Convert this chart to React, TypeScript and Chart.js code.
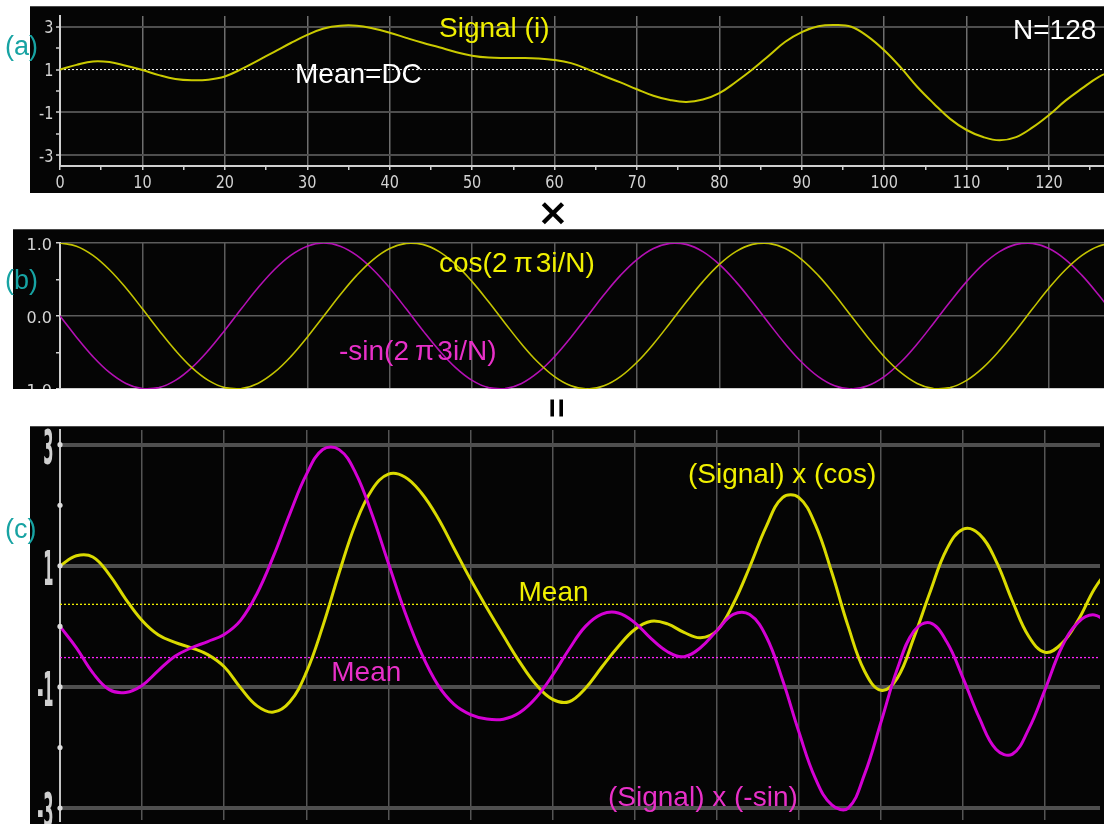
import React, { useEffect, useRef } from 'react';
import { Chart, registerables } from 'chart.js';

Chart.register(...registerables);

// ---------- data ----------
const sampleIdx = [
  0, 2, 4, 6, 8, 10, 12, 14, 16, 18, 20, 22, 24, 26, 28, 30, 32, 34, 36, 38, 40, 42, 44, 46, 48, 50, 52, 54, 56, 58, 60, 62,
  64, 66, 68, 70, 72, 74, 76, 78, 80, 82, 84, 86, 88, 90, 92, 94, 96, 98, 100, 102, 104, 106, 108, 110, 112, 114, 116, 118,
  120, 122, 124, 126, 128,
];

const signalVals = [
  1.0, 1.22, 1.38, 1.35, 1.18, 0.98, 0.74, 0.56, 0.5, 0.53, 0.68, 1.02, 1.42, 1.83, 2.24, 2.62, 2.92, 3.05, 3.05, 2.92,
  2.72, 2.48, 2.25, 2.04, 1.82, 1.65, 1.56, 1.54, 1.54, 1.52, 1.45, 1.3, 1.02, 0.7, 0.4, 0.08, -0.22, -0.42, -0.51, -0.4,
  -0.1, 0.42, 1.0, 1.65, 2.3, 2.75, 3.02, 3.08, 3.0, 2.55, 1.9, 1.1, 0.2, -0.58, -1.3, -1.82, -2.15, -2.3, -2.15, -1.7,
  -1.12, -0.45, 0.12, 0.65, 1.0,
];

const cosVals = [
  1, 0.957, 0.831, 0.634, 0.383, 0.098, -0.195, -0.471, -0.707, -0.882, -0.981, -0.995, -0.924, -0.773, -0.556, -0.29, 0,
  0.29, 0.556, 0.773, 0.924, 0.995, 0.981, 0.882, 0.707, 0.471, 0.195, -0.098, -0.383, -0.634, -0.831, -0.957, -1, -0.957,
  -0.831, -0.634, -0.383, -0.098, 0.195, 0.471, 0.707, 0.882, 0.981, 0.995, 0.924, 0.773, 0.556, 0.29, 0, -0.29, -0.556,
  -0.773, -0.924, -0.995, -0.981, -0.882, -0.707, -0.471, -0.195, 0.098, 0.383, 0.634, 0.831, 0.957, 1,
];

const negSinVals = [
  0, -0.29, -0.556, -0.773, -0.924, -0.995, -0.981, -0.882, -0.707, -0.471, -0.195, 0.098, 0.383, 0.634, 0.831, 0.957, 1,
  0.957, 0.831, 0.634, 0.383, 0.098, -0.195, -0.471, -0.707, -0.882, -0.981, -0.995, -0.924, -0.773, -0.556, -0.29, 0, 0.29,
  0.556, 0.773, 0.924, 0.995, 0.981, 0.882, 0.707, 0.471, 0.195, -0.098, -0.383, -0.634, -0.831, -0.957, -1, -0.957,
  -0.831, -0.634, -0.383, -0.098, 0.195, 0.471, 0.707, 0.882, 0.981, 0.995, 0.924, 0.773, 0.556, 0.29, 0,
];

const prodCosVals = [
  1.0, 1.167, 1.147, 0.856, 0.452, 0.096, -0.144, -0.264, -0.354, -0.467, -0.667, -1.015, -1.312, -1.415, -1.245, -0.76,
  0, 0.885, 1.696, 2.257, 2.513, 2.468, 2.207, 1.799, 1.287, 0.777, 0.304, -0.151, -0.59, -0.964, -1.205, -1.244, -1.02,
  -0.67, -0.332, -0.051, 0.084, 0.041, -0.099, -0.188, -0.071, 0.37, 0.981, 1.642, 2.125, 2.126, 1.679, 0.893, 0, -0.74,
  -1.056, -0.85, -0.185, 0.577, 1.275, 1.605, 1.52, 1.083, 0.419, -0.167, -0.429, -0.285, 0.1, 0.622, 1.0,
];

const prodSinVals = [
  0, -0.354, -0.767, -1.044, -1.09, -0.975, -0.726, -0.494, -0.354, -0.25, -0.133, 0.1, 0.544, 1.16, 1.861, 2.507, 2.92,
  2.919, 2.535, 1.851, 1.042, 0.243, -0.439, -0.961, -1.287, -1.455, -1.53, -1.532, -1.423, -1.175, -0.806, -0.377, 0,
  0.203, 0.222, 0.062, -0.203, -0.418, -0.5, -0.353, -0.071, 0.198, 0.195, -0.162, -0.881, -1.744, -2.51, -2.948, -3.0,
  -2.44, -1.579, -0.697, -0.077, 0.057, -0.254, -0.857, -1.52, -2.029, -2.109, -1.692, -1.035, -0.348, 0.067, 0.189, 0,
];

const meanDC = 1.0;
const meanProdCos = 0.364;
const meanProdSin = -0.515;

const xTicks = [0, 5, 10, 15, 20, 25, 30, 35, 40, 45, 50, 55, 60, 65, 70, 75, 80, 85, 90, 95, 100, 105, 110, 115, 120, 125];
const yTicksA = [-3, -2, -1, 0, 1, 2, 3];
const yTicksB = [-1, -0.5, 0, 0.5, 1];
const yTicksC = [-3, -2, -1, 0, 1, 2, 3];

const X_MIN = 0;
const X_MAX = 126.67;

// ---------- helpers ----------
const pts = (ys: number[]) => sampleIdx.map((x, k) => ({ x, y: ys[k] }));
const hline = (y: number) => [
  { x: 0, y },
  { x: 128, y },
];
const fixedTicks = (vals: number[]) => (scale: any) => {
  scale.ticks = vals.map((value) => ({ value }));
};
const isOdd = (v: number) => Math.abs(Math.round(v)) % 2 === 1 && Math.abs(v - Math.round(v)) < 1e-6;

type TickSpec = {
  axis: 'x' | 'y';
  font: string;
  color: string;
  sx: number;
  sy: number;
  offset: number;
  shift: number;
  show: (v: number) => boolean;
  fmt: (v: number) => string;
};

function tickTextPlugin(specs: TickSpec[]) {
  return {
    id: 'tickText',
    afterDraw(chart: any) {
      const { ctx, chartArea } = chart;
      specs.forEach((s) => {
        const scale = chart.scales[s.axis];
        scale.ticks.forEach((t: any) => {
          if (!s.show(t.value)) return;
          const p = scale.getPixelForValue(t.value);
          ctx.save();
          ctx.font = s.font;
          ctx.fillStyle = s.color;
          ctx.textBaseline = 'alphabetic';
          if (s.axis === 'x') {
            ctx.translate(p, chartArea.bottom + s.offset);
            ctx.textAlign = 'center';
          } else {
            ctx.translate(chartArea.left - s.offset, p + s.shift);
            ctx.textAlign = 'right';
          }
          ctx.scale(s.sx, s.sy);
          ctx.fillText(s.fmt(t.value), 0, 0);
          ctx.restore();
        });
      });
    },
  };
}

const baseOpts = {
  animation: false as const,
  responsive: false,
  maintainAspectRatio: false,
  events: [] as any[],
  plugins: { legend: { display: false }, tooltip: { enabled: false } },
};

const TICK_FONT = "17px 'DejaVu Sans', Verdana, sans-serif";
const TICK_COLOR = '#d4d4d4';
const TENSION = 0.4;

function makeChartA(canvas: HTMLCanvasElement) {
  return new Chart(canvas, {
    type: 'line',
    data: {
      datasets: [
        {
          data: pts(signalVals),
          borderColor: '#caca00',
          borderWidth: 2,
          pointRadius: 0,
          tension: TENSION,
          order: 0,
        } as any,
        {
          data: hline(meanDC),
          borderColor: '#ffffff',
          borderWidth: 1,
          borderDash: [2, 2],
          pointRadius: 0,
          order: 1,
        },
      ],
    },
    options: {
      ...baseOpts,
      layout: { padding: { top: 10, left: 0, right: 0, bottom: 0 } },
      scales: {
        x: {
          type: 'linear',
          min: X_MIN,
          max: X_MAX,
          bounds: 'data',
          afterBuildTicks: fixedTicks(xTicks),
          afterFit: (s: any) => {
            s.height = 27;
          },
          ticks: { display: false },
          border: { display: true, color: '#cfcfcf', width: 2 },
          grid: {
            color: (c: any) => (c.tick && c.tick.value % 10 === 0 ? '#6e6e6e' : 'transparent'),
            lineWidth: 1.5,
            drawTicks: true,
            tickLength: 4,
            tickColor: '#cfcfcf',
            tickWidth: 1.5,
          },
        },
        y: {
          type: 'linear',
          min: -3.5,
          max: 3.5,
          bounds: 'data',
          afterBuildTicks: fixedTicks(yTicksA),
          afterFit: (s: any) => {
            s.width = 30;
          },
          ticks: { display: false },
          border: { display: true, color: '#cfcfcf', width: 2 },
          grid: {
            color: (c: any) => (c.tick && isOdd(c.tick.value) && c.tick.value !== 1 ? '#4e4e4e' : 'transparent'),
            lineWidth: 2,
            drawTicks: true,
            tickLength: 4,
            tickColor: '#cfcfcf',
            tickWidth: 1.5,
          },
        },
      },
    } as any,
    plugins: [
      tickTextPlugin([
        {
          axis: 'x',
          font: TICK_FONT,
          color: TICK_COLOR,
          sx: 0.85,
          sy: 1,
          offset: 22.3,
          shift: 0,
          show: (v) => v % 10 === 0,
          fmt: (v) => String(v),
        },
        {
          axis: 'y',
          font: TICK_FONT,
          color: TICK_COLOR,
          sx: 0.85,
          sy: 1,
          offset: 6.5,
          shift: 6.3,
          show: (v) => isOdd(v),
          fmt: (v) => String(v),
        },
      ]) as any,
    ],
  });
}

function makeChartB(canvas: HTMLCanvasElement) {
  return new Chart(canvas, {
    type: 'line',
    data: {
      datasets: [
        {
          data: pts(cosVals),
          borderColor: '#c4c400',
          borderWidth: 1.6,
          pointRadius: 0,
          tension: TENSION,
        } as any,
        {
          data: pts(negSinVals),
          borderColor: '#b410b4',
          borderWidth: 1.6,
          pointRadius: 0,
          tension: TENSION,
        } as any,
      ],
    },
    options: {
      ...baseOpts,
      layout: { padding: { top: 14, left: 0, right: 0, bottom: 0 } },
      scales: {
        x: {
          type: 'linear',
          min: X_MIN,
          max: X_MAX,
          bounds: 'data',
          afterBuildTicks: fixedTicks(xTicks),
          afterFit: (s: any) => {
            s.height = 40;
          },
          ticks: { display: false },
          border: { display: true, color: '#cfcfcf', width: 2 },
          grid: {
            color: (c: any) => (c.tick && c.tick.value % 10 === 0 ? '#5c5c5c' : 'transparent'),
            lineWidth: 1.5,
            drawTicks: true,
            tickLength: 4,
            tickColor: '#cfcfcf',
            tickWidth: 1.5,
          },
        },
        y: {
          type: 'linear',
          min: -1,
          max: 1,
          bounds: 'data',
          afterBuildTicks: fixedTicks(yTicksB),
          afterFit: (s: any) => {
            s.width = 47;
          },
          ticks: { display: false },
          border: { display: true, color: '#cfcfcf', width: 2 },
          grid: {
            color: (c: any) => (c.tick && Math.abs(c.tick.value) !== 0.5 ? '#5c5c5c' : 'transparent'),
            lineWidth: 1.5,
            drawTicks: true,
            tickLength: 4,
            tickColor: '#cfcfcf',
            tickWidth: 1.5,
          },
        },
      },
    } as any,
    plugins: [
      tickTextPlugin([
        {
          axis: 'y',
          font: "16px 'DejaVu Sans', Verdana, sans-serif",
          color: TICK_COLOR,
          sx: 1,
          sy: 1,
          offset: 8,
          shift: 7.3,
          show: (v) => Math.abs(v) !== 0.5,
          fmt: (v) => v.toFixed(1),
        },
      ]) as any,
    ],
  });
}

function makeChartC(canvas: HTMLCanvasElement) {
  return new Chart(canvas, {
    type: 'line',
    data: {
      datasets: [
        {
          data: pts(prodCosVals),
          borderColor: '#dada00',
          borderWidth: 3,
          pointRadius: 0,
          tension: TENSION,
          order: 1,
        } as any,
        {
          data: pts(prodSinVals),
          borderColor: '#d400d4',
          borderWidth: 3,
          pointRadius: 0,
          tension: TENSION,
          order: 0,
        } as any,
        {
          data: hline(meanProdCos),
          borderColor: '#f0f000',
          borderWidth: 1.3,
          borderDash: [2, 2],
          pointRadius: 0,
          order: 3,
        },
        {
          data: hline(meanProdSin),
          borderColor: '#ff20ff',
          borderWidth: 1.3,
          borderDash: [2, 2],
          pointRadius: 0,
          order: 3,
        },
        {
          data: yTicksC.map((v) => ({ x: 0, y: v })),
          showLine: false,
          pointRadius: 2.6,
          pointBackgroundColor: '#dcdcdc',
          pointBorderWidth: 0,
          clip: false,
          order: -1,
        } as any,
      ],
    },
    options: {
      ...baseOpts,
      layout: { padding: { top: 0, left: 0, right: 0, bottom: 0 } },
      scales: {
        x: {
          type: 'linear',
          min: X_MIN,
          max: X_MAX,
          bounds: 'data',
          afterBuildTicks: fixedTicks(xTicks),
          afterFit: (s: any) => {
            s.height = 0;
          },
          ticks: { display: false },
          border: { display: false },
          grid: {
            color: (c: any) => (c.tick && c.tick.value % 10 === 0 && c.tick.value !== 0 ? '#555555' : 'transparent'),
            lineWidth: 1.5,
            drawTicks: false,
          },
        },
        y: {
          type: 'linear',
          min: -3.197,
          max: 3.243,
          bounds: 'data',
          afterBuildTicks: fixedTicks(yTicksC),
          afterFit: (s: any) => {
            s.width = 30;
          },
          ticks: { display: false },
          border: { display: true, color: '#c4c4c4', width: 2 },
          grid: {
            color: (c: any) => (c.tick && isOdd(c.tick.value) ? '#4f4f4f' : 'transparent'),
            lineWidth: 4,
            drawTicks: false,
          },
        },
      },
    } as any,
    plugins: [
      tickTextPlugin([
        {
          axis: 'y',
          font: "bold 14px 'DejaVu Sans', Verdana, sans-serif",
          color: '#d0d0d0',
          sx: 1.05,
          sy: 3.4,
          offset: 6.5,
          shift: 19,
          show: (v) => isOdd(v),
          fmt: (v) => String(v),
        },
      ]) as any,
    ],
  });
}

// ---------- text overlays ----------
const LBL = "'Liberation Sans', Arial, Helvetica, sans-serif";

function Txt(props: { x: number; base: number; size?: number; color: string; children: React.ReactNode }) {
  const size = props.size ?? 28;
  return (
    <div
      style={{
        position: 'absolute',
        left: props.x,
        top: props.base - size * 0.8465,
        font: `${size}px ${LBL}`,
        lineHeight: `${size}px`,
        color: props.color,
        whiteSpace: 'nowrap',
      }}
    >
      {props.children}
    </div>
  );
}

const Pi = () => <span style={{ margin: '0 3px 0 6px' }}>π</span>;

const YEL = '#f0f000';
const MAG = '#e830c8';
const TEAL = '#17a3a3';

export default function App() {
  const refA = useRef<HTMLCanvasElement>(null);
  const refB = useRef<HTMLCanvasElement>(null);
  const refC = useRef<HTMLCanvasElement>(null);

  useEffect(() => {
    const charts: Chart[] = [];
    if (refA.current) charts.push(makeChartA(refA.current));
    if (refB.current) charts.push(makeChartB(refB.current));
    if (refC.current) charts.push(makeChartC(refC.current));
    return () => charts.forEach((c) => c.destroy());
  }, []);

  const panel = (left: number, top: number, w: number, h: number): React.CSSProperties => ({
    position: 'absolute',
    left,
    top,
    width: w,
    height: h,
    background: '#050505',
    overflow: 'hidden',
    boxShadow: 'inset 0 1px 0 #4a4a4a',
  });

  return (
    <div
      style={{
        position: 'absolute',
        left: 0,
        top: 0,
        width: 1104,
        height: 824,
        background: '#ffffff',
        overflow: 'hidden',
      }}
    >
      <div style={panel(30, 6, 1074, 187)}>
        <canvas ref={refA} width={1074} height={187} style={{ display: 'block' }} />
      </div>
      <div style={panel(13, 229, 1091, 160)}>
        <canvas ref={refB} width={1091} height={200} style={{ display: 'block' }} />
      </div>
      <div style={panel(30, 426, 1074, 398)}>
        <canvas ref={refC} width={1074} height={398} style={{ display: 'block' }} />
      </div>

      {/* operators between panels */}
      <div
        style={{
          position: 'absolute',
          left: 533,
          top: 192,
          width: 40,
          height: 40,
          display: 'flex',
          alignItems: 'center',
          justifyContent: 'center',
          font: "bold 38px 'DejaVu Sans', sans-serif",
          lineHeight: '40px',
          color: '#000',
        }}
      >
        ×
      </div>
      <div
        style={{
          position: 'absolute',
          left: 537,
          top: 388,
          width: 40,
          height: 40,
          display: 'flex',
          alignItems: 'center',
          justifyContent: 'center',
          font: `bold 34px ${LBL}`,
          lineHeight: '40px',
          color: '#000',
          transform: 'rotate(90deg)',
        }}
      >
        =
      </div>

      {/* panel labels */}
      <Txt x={5} base={55.5} size={27} color={TEAL}>(a)</Txt>
      <Txt x={5} base={290} size={27} color={TEAL}>(b)</Txt>
      <Txt x={5} base={539} size={27} color={TEAL}>(c)</Txt>

      {/* annotations */}
      <Txt x={439} base={37.3} color={YEL}>Signal (i)</Txt>
      <Txt x={1013} base={39.3} color="#ffffff">N=128</Txt>
      <Txt x={295} base={83.3} color="#ffffff">Mean=DC</Txt>
      <Txt x={439} base={272.7} color={YEL}>
        cos(2<Pi />3i/N)
      </Txt>
      <Txt x={339} base={360.7} color={MAG}>
        -sin(2<Pi />3i/N)
      </Txt>
      <Txt x={688} base={483.3} color={YEL}>(Signal) x (cos)</Txt>
      <Txt x={518.5} base={601.7} color={YEL}>Mean</Txt>
      <Txt x={331.3} base={681.7} color={MAG}>Mean</Txt>
      <Txt x={608} base={806.7} color={MAG}>(Signal) x (-sin)</Txt>
    </div>
  );
}
